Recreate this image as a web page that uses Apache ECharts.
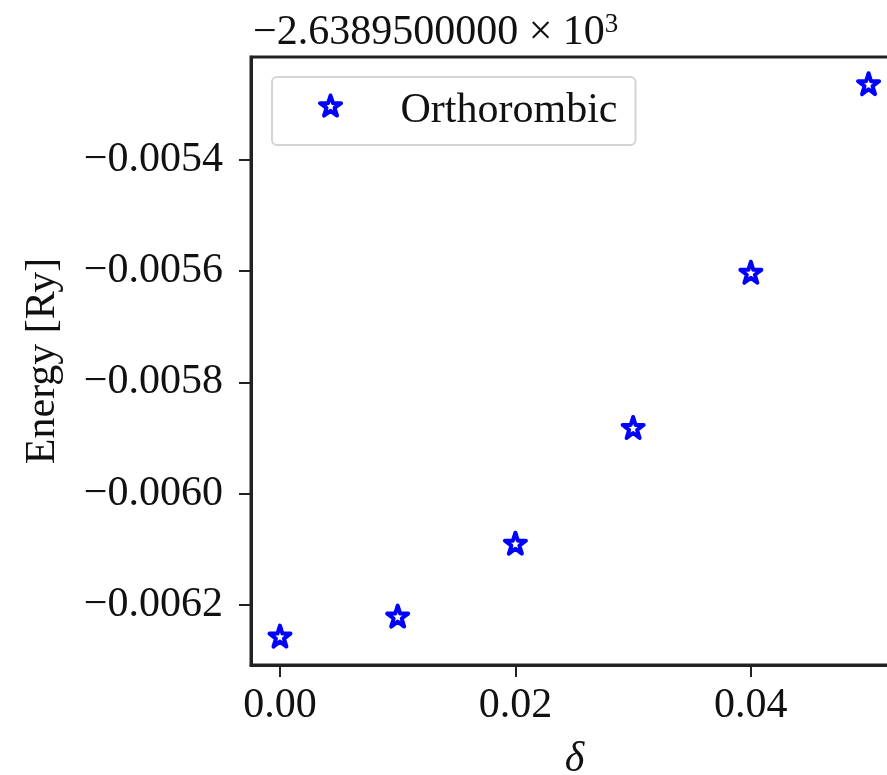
<!DOCTYPE html>
<html>
<head>
<meta charset="utf-8">
<script src="https://cdn.jsdelivr.net/npm/echarts@6/dist/echarts.min.js"></script>
<style>
html,body{margin:0;padding:0;background:#fff;}
#chart{width:887px;height:775px;}
</style>
</head>
<body>
<div id="chart"></div>
<script>
// ---- data ----
const deltaValues = [0.00, 0.01, 0.02, 0.03, 0.04, 0.05];
const energyValues = [-0.006256, -0.006220, -0.006089, -0.005881, -0.005602, -0.005263];
const seriesName = 'Orthorombic';
const xTickValues = [0.00, 0.02, 0.04];
const yTickValues = [-0.0062, -0.0060, -0.0058, -0.0056, -0.0054];
const offsetMantissa = '\u22122.6389500000 \u00d7 10';
const offsetExponent = '3';
const xAxisLabel = '\u03b4';
const yAxisLabel = 'Energy [Ry]';

// star marker path (5-point, inner radius ratio as matplotlib '*')
function starPoints() {
  const pts = [];
  const inner = 0.381966;
  for (let i = 0; i < 10; i++) {
    const r = i % 2 === 0 ? 1 : inner;
    const a = -Math.PI / 2 + i * Math.PI / 5;
    pts.push((r * Math.cos(a)).toFixed(4) + ',' + (r * Math.sin(a)).toFixed(4));
  }
  return 'M' + pts.join('L') + 'Z';
}
const STAR = 'path://' + starPoints();
// legend icon: same star, with an empty point below so it sits a little higher in the legend row
const STAR_LEGEND = 'path://' + starPoints() + 'M0,1.8L0,1.8';

const font = '"Liberation Serif", "DejaVu Serif", serif';
const fs = 42;
const fmt = (v, d) => v.toFixed(d).replace('-', '\u2212');
const starStyle = {color: '#fff', borderColor: '#0000ff', borderWidth: 4, borderJoin: 'round', opacity: 1};

const chart = echarts.init(document.getElementById('chart'), null, {renderer: 'canvas'});
chart.setOption({
  animation: false,
  backgroundColor: '#fff',
  title: {
    text: '{m|' + offsetMantissa + '}{e|' + offsetExponent + '}',
    left: 248, top: 6,
    textStyle: {
      fontWeight: 'normal',
      rich: {
        m: {fontFamily: font, fontSize: fs, fontWeight: 'normal', color: '#111'},
        e: {fontFamily: font, fontSize: 27, fontWeight: 'normal', color: '#111', verticalAlign: 'top', padding: [0, 0, 16, 0]}
      }
    }
  },
  legend: {
    left: 272, top: 77,
    data: [{name: seriesName, icon: STAR_LEGEND}],
    itemWidth: 22, itemHeight: 31,
    padding: [13, 18, 13, 46],
    backgroundColor: '#fff',
    borderColor: '#d4d4d4', borderWidth: 2, borderRadius: 5,
    itemStyle: starStyle,
    textStyle: {fontFamily: font, fontSize: fs, color: '#111', padding: [0, 0, 0, 54]}
  },
  grid: {
    left: 251, top: 57, width: 647, height: 608,
    outerBoundsMode: 'none',
    containLabel: false,
    show: true, borderColor: '#222', borderWidth: 3, backgroundColor: 'transparent'
  },
  xAxis: {
    type: 'value',
    min: -0.00246, max: 0.0525,
    name: xAxisLabel, nameLocation: 'middle', nameGap: 74,
    nameTextStyle: {fontFamily: font, fontStyle: 'italic', fontSize: fs, color: '#111'},
    axisLine: {show: true, onZero: false, lineStyle: {color: '#222', width: 3}},
    axisTick: {show: true, inside: false, length: 12, lineStyle: {color: '#222', width: 2}, customValues: xTickValues},
    axisLabel: {margin: 20, fontFamily: font, fontSize: fs, color: '#111', customValues: xTickValues, formatter: v => fmt(v, 2)},
    splitLine: {show: false}
  },
  yAxis: {
    type: 'value',
    min: -0.006308, max: -0.005215,
    name: yAxisLabel, nameLocation: 'middle', nameGap: 187, nameRotate: 90,
    nameTextStyle: {fontFamily: font, fontSize: fs, color: '#111'},
    axisLine: {show: true, onZero: false, lineStyle: {color: '#222', width: 3}},
    axisTick: {show: true, inside: false, length: 12, lineStyle: {color: '#222', width: 2}, customValues: yTickValues},
    axisLabel: {margin: 28, fontFamily: font, fontSize: fs, color: '#111', customValues: yTickValues, formatter: v => fmt(v, 4)},
    splitLine: {show: false}
  },
  series: [{
    name: seriesName,
    type: 'scatter',
    symbol: STAR,
    symbolSize: 21,
    itemStyle: starStyle,
    data: deltaValues.map((x, i) => [x, energyValues[i]])
  }]
});
</script>
</body>
</html>
